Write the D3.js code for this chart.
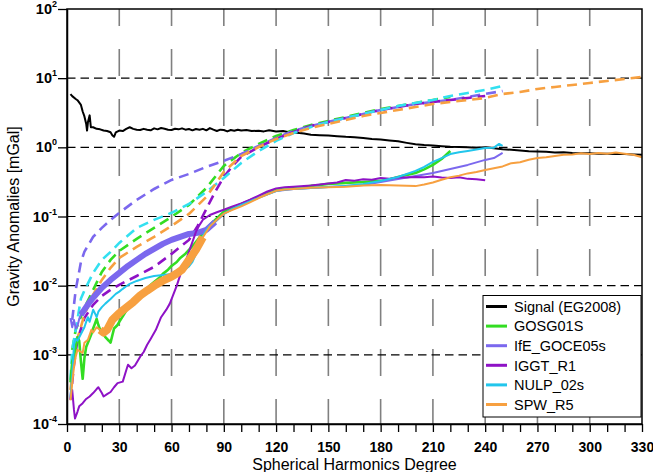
<!DOCTYPE html>
<html><head><meta charset="utf-8">
<script src="https://cdn.jsdelivr.net/npm/d3@7"></script>
<style>body{margin:0;background:#fff}svg{display:block}text{font-family:"Liberation Sans",Arial,sans-serif}</style>
</head><body><svg id="c" width="653" height="472"></svg>
<script>
// ---------- data: [degree, value in mGal] ----------
const xTicks = [0,30,60,90,120,150,180,210,240,270,300,330];
const yTicks = [1e-4,1e-3,1e-2,1e-1,1,10,100];
const yTickExp = ["-4","-3","-2","-1","0","1","2"];
const seriesNames = ["Signal (EG2008)","GOSG01S","IfE_GOCE05s","IGGT_R1","NULP_02s","SPW_R5"];

const signal = [[2,5.9],[3,5.5],[5,5.0],[6,4.8],[8,4.1],[9,3.3],[10,2.8],[11,2.2],[11.5,1.75],[12,2.3],[13,2.9],[13.7,1.95],[15,1.95],[17,1.85],[19,1.82],[21,1.75],[23,1.72],[25,1.65],[26,1.5],[27,1.42],[28,1.65],[30,1.75],[32,1.72],[34,1.85],[36,1.95],[38,1.85],[40,1.8],[42,1.78],[44,1.85],[46,1.8],[48,1.76],[50,1.88],[52,1.82],[54,1.9],[56,1.86],[58,1.8],[60,1.78],[62,1.86],[64,1.82],[66,1.88],[68,1.8],[70,1.84],[72,1.76],[74,1.84],[76,1.8],[78,1.85],[80,1.76],[82,1.9],[84,1.8],[86,1.72],[88,1.8],[90,1.78],[92,1.7],[94,1.78],[96,1.74],[98,1.8],[100,1.75],[103,1.78],[106,1.72],[110,1.74],[113,1.7],[116,1.76],[120,1.7],[124,1.72],[128,1.64],[132,1.62],[136,1.58],[140,1.52],[145,1.5],[150,1.48],[155,1.45],[160,1.42],[165,1.4],[170,1.36],[175,1.32],[180,1.3],[185,1.26],[190,1.22],[195,1.16],[200,1.11],[205,1.08],[210,1.06],[215,1.04],[220,1.02],[225,1.01],[230,1.0],[235,0.99],[240,1.0],[245,0.97],[250,0.94],[255,0.92],[260,0.9],[265,0.88],[270,0.87],[275,0.86],[280,0.84],[285,0.85],[290,0.83],[295,0.82],[300,0.82],[305,0.81],[310,0.81],[315,0.8],[320,0.8],[325,0.79],[330,0.78]];

const gosgDeg = [[2,0.0004],[3,0.0008],[4,0.00095],[5,0.0013],[6,0.0018],[7,0.0016],[8,0.0008],[9,0.00045],[10,0.0009],[11,0.0013],[12,0.0015],[14,0.002],[15,0.0024],[16,0.0028],[17,0.0033],[18,0.0027],[19,0.0023],[21,0.002],[22,0.0018],[24,0.0016],[25,0.0015],[26,0.0019],[27,0.0024],[29,0.0027],[30,0.003],[32,0.0036],[35,0.0048],[38,0.0058],[40,0.0067],[43,0.0078],[45,0.0087],[48,0.0102],[50,0.0113],[53,0.013],[55,0.0148],[58,0.017],[60,0.0193],[63,0.022],[65,0.0252],[68,0.029],[70,0.033],[73,0.04],[75,0.046],[78,0.058],[80,0.068],[83,0.08],[85,0.089],[88,0.105],[90,0.117],[95,0.133],[100,0.152],[105,0.17],[110,0.192],[115,0.22],[120,0.242],[125,0.255],[130,0.259],[135,0.265],[140,0.277],[145,0.285],[150,0.296],[160,0.306],[170,0.316],[180,0.327],[185,0.345],[190,0.373],[195,0.4],[200,0.426],[205,0.48],[210,0.557],[215,0.68],[220,0.887]];
const gosgCum = [[3,0.00118],[5,0.0023],[10,0.0048],[15,0.0087],[20,0.0158],[25,0.0236],[30,0.0318],[40,0.0475],[50,0.0684],[60,0.099],[70,0.147],[80,0.259],[90,0.539],[100,0.83],[110,1.12],[120,1.46],[130,1.78],[140,2.11],[150,2.41],[160,2.75],[170,3.14],[180,3.58],[190,3.96],[200,4.38],[210,4.84],[220,5.35]];

const ifeDeg = [[2,0.0034],[3,0.0025],[4,0.0032],[5,0.0024],[6,0.0026],[7,0.0033],[8,0.0038],[10,0.0045],[13,0.0058],[15,0.0067],[20,0.0093],[25,0.0121],[30,0.0153],[35,0.0193],[40,0.0236],[45,0.0288],[50,0.034],[55,0.0402],[60,0.0459],[65,0.0507],[70,0.056],[75,0.058],[80,0.064],[85,0.0835],[90,0.109],[95,0.129],[100,0.147],[110,0.19],[120,0.234],[130,0.25],[140,0.259],[150,0.268],[160,0.277],[170,0.286],[180,0.316],[190,0.349],[200,0.386],[210,0.426],[220,0.487],[230,0.557],[240,0.658],[245,0.7],[250,0.83]];
const ifeCum = [[3,0.0032],[5,0.0087],[8,0.022],[10,0.031],[15,0.0507],[20,0.0684],[25,0.089],[30,0.113],[40,0.174],[50,0.25],[60,0.338],[70,0.412],[80,0.521],[90,0.637],[100,0.8],[110,1.05],[120,1.37],[130,1.73],[140,2.04],[150,2.33],[160,2.66],[170,3.04],[180,3.47],[190,3.83],[200,4.24],[210,4.53],[220,4.84],[230,5.35],[240,5.91],[250,6.53]];

const iggtDeg = [[2,0.0003],[3,0.00031],[4,0.00016],[4.6,0.00012],[6,0.00015],[7,0.00018],[9,0.0002],[11,0.00023],[13,0.00025],[15,0.00028],[17,0.00032],[18,0.00034],[20,0.00028],[21,0.00025],[23,0.00027],[25,0.00029],[27,0.00034],[29,0.00039],[32,0.00041],[34,0.0006],[35,0.00072],[37,0.00064],[39,0.0007],[42,0.00094],[44,0.0011],[46,0.0014],[48,0.0017],[51,0.0023],[54,0.0035],[57,0.0045],[59,0.0055],[61,0.0074],[63,0.01],[65,0.0143],[68,0.022],[70,0.031],[72,0.043],[74,0.06],[76,0.075],[78,0.09],[82,0.105],[86,0.115],[90,0.125],[95,0.14],[100,0.155],[105,0.175],[110,0.2],[115,0.23],[120,0.255],[125,0.265],[130,0.27],[140,0.28],[150,0.3],[155,0.31],[160,0.338],[165,0.33],[170,0.345],[175,0.34],[180,0.36],[185,0.35],[190,0.37],[195,0.365],[200,0.373],[205,0.37],[210,0.38],[215,0.365],[220,0.36],[225,0.37],[230,0.35],[235,0.345],[240,0.335]];
const iggtCum = [[2,0.000224],[4,0.00072],[6,0.00165],[10,0.0034],[15,0.0053],[20,0.0071],[25,0.0087],[30,0.0103],[40,0.0138],[50,0.0187],[60,0.0288],[70,0.0459],[75,0.073],[80,0.129],[85,0.227],[90,0.373],[95,0.539],[100,0.727],[110,1.01],[120,1.32],[130,1.67],[140,2.04],[150,2.33],[160,2.66],[170,3.04],[180,3.47],[190,3.83],[200,4.24],[210,4.53],[220,4.84],[230,5.17],[240,5.53]];

const nulpDeg = [[2,0.00024],[3,0.0005],[4,0.0014],[5,0.0017],[6,0.0016],[8,0.002],[10,0.0025],[11,0.003],[12,0.0035],[13,0.003],[15,0.0045],[16,0.004],[17,0.0035],[18,0.0042],[20,0.0049],[22,0.0055],[25,0.0064],[28,0.0076],[30,0.0082],[32,0.009],[34,0.0098],[36,0.0106],[40,0.0117],[45,0.0129],[50,0.0138],[55,0.0143],[60,0.0148],[65,0.0158],[68,0.0175],[70,0.019],[72,0.0221],[75,0.0329],[78,0.0524],[80,0.064],[82,0.0731],[86,0.0893],[90,0.109],[95,0.129],[100,0.147],[110,0.186],[120,0.234],[125,0.245],[130,0.25],[140,0.259],[150,0.268],[160,0.277],[170,0.296],[180,0.327],[190,0.373],[200,0.456],[205,0.52],[210,0.615],[215,0.7],[220,0.8],[225,0.85],[230,0.887],[235,0.93],[240,0.98],[245,0.99],[248,1.12],[250,1.05]];
const nulpCum = [[2,0.000435],[3,0.00118],[5,0.0023],[8,0.0065],[10,0.0085],[15,0.0153],[20,0.0236],[25,0.0308],[30,0.0415],[40,0.0684],[50,0.0893],[60,0.113],[70,0.152],[80,0.227],[90,0.361],[100,0.595],[110,0.887],[120,1.24],[130,1.61],[140,1.97],[150,2.33],[160,2.66],[170,3.04],[180,3.47],[190,3.96],[200,4.38],[210,4.84],[220,5.53],[230,6.11],[240,6.76],[250,7.71]];

const spwDeg = [[2,0.00022],[3,0.00039],[4,0.00067],[5,0.00094],[6,0.00118],[8,0.0011],[9,0.00107],[10,0.0015],[12,0.00165],[14,0.0023],[15,0.0021],[17,0.0025],[19,0.0023],[21,0.0021],[23,0.0023],[26,0.0032],[30,0.004],[34,0.0048],[38,0.0058],[42,0.0072],[46,0.0085],[51,0.0103],[55,0.0118],[60,0.0135],[63,0.015],[66,0.017],[70,0.0236],[74,0.033],[78,0.05],[82,0.072],[86,0.09],[90,0.11],[95,0.125],[100,0.14],[105,0.16],[110,0.185],[115,0.21],[120,0.235],[125,0.245],[130,0.25],[140,0.26],[150,0.265],[160,0.27],[170,0.28],[180,0.286],[190,0.28],[200,0.275],[205,0.29],[210,0.31],[215,0.34],[220,0.37],[225,0.39],[230,0.42],[235,0.44],[240,0.47],[245,0.5],[250,0.53],[255,0.59],[260,0.61],[265,0.66],[270,0.7],[275,0.72],[280,0.75],[285,0.78],[290,0.79],[295,0.82],[300,0.8],[305,0.83],[310,0.81],[315,0.84],[320,0.81],[325,0.78],[330,0.72]];
const spwCum = [[2,0.00031],[5,0.0014],[10,0.0038],[15,0.0074],[20,0.0121],[25,0.0181],[30,0.0252],[40,0.0364],[50,0.0507],[60,0.0731],[70,0.109],[80,0.192],[90,0.441],[100,0.75],[110,1.01],[120,1.32],[130,1.61],[140,1.91],[150,2.18],[160,2.49],[170,2.84],[180,3.14],[190,3.47],[200,3.83],[210,4.24],[220,4.53],[230,4.84],[240,5.17],[250,5.91],[260,6.32],[270,6.98],[280,7.47],[290,7.97],[300,8.53],[310,9.11],[320,9.74],[330,10.4]];

// ---------- layout / style ----------
const W = 653, H = 472;
const L = 67, R = 642, T = 9, B = 424;
const colors = ["#000000","#33dd22","#7b68ee","#8e12c6","#22c6ec","#f7a040"];
const cumColors = [null,"#33dd22","#7b68ee","#8e12c6","#33e0f0","#f7a040"];
const FONT = '"Liberation Sans",Arial,sans-serif';

const svg = d3.select("#c");
const x = d3.scaleLinear().domain([0,330]).range([L,R]);
const y = d3.scaleLog().domain([1e-4,1e2]).range([B,T]);

// grid: vertical gray dashes
svg.append("g").selectAll("line").data(xTicks.filter(d=>d>0&&d<330)).join("line")
  .attr("x1",d=>x(d)).attr("x2",d=>x(d)).attr("y1",T).attr("y2",B)
  .attr("stroke","#808080").attr("stroke-width",1.6)
  .attr("stroke-dasharray","27,23").attr("stroke-dashoffset",10);
// grid: horizontal black dashes
svg.append("g").selectAll("line").data(yTicks.filter(d=>d>1e-4&&d<1e2)).join("line")
  .attr("x1",L).attr("x2",R).attr("y1",d=>y(d)).attr("y2",d=>y(d))
  .attr("stroke","#000").attr("stroke-width",1.1).attr("stroke-dasharray","8.5,5");

const line = d3.line().x(d=>x(d[0])).y(d=>y(d[1]));
const plot = svg.append("g");
function solid(data,color,w){ plot.append("path").attr("d",line(data)).attr("fill","none").attr("stroke",color).attr("stroke-width",w).attr("stroke-linejoin","round"); }
function dashed(data,color){ plot.append("path").attr("d",line(data)).attr("fill","none").attr("stroke",color).attr("stroke-width",2.6).attr("stroke-dasharray","10,6"); }

solid(signal,colors[0],2);
const degSeries = [gosgDeg,ifeDeg,iggtDeg,nulpDeg,spwDeg];
const cumSeries = [gosgCum,ifeCum,iggtCum,nulpCum,spwCum];
const bands = [null,[8,86],null,null,[18,80]];
const widths = [2.6,2,2,2,2];
cumSeries.forEach((s,i)=>dashed(s,cumColors[i+1]));
degSeries.forEach((s,i)=>{
  solid(s,colors[i+1],widths[i]);
  if(bands[i]) solid(s.filter(p=>p[0]>=bands[i][0]&&p[0]<=bands[i][1]),colors[i+1],i===4?8:6);
});

// frame
svg.append("rect").attr("x",L).attr("y",T).attr("width",R-L).attr("height",B-T)
  .attr("fill","none").attr("stroke","#000").attr("stroke-width",1.5);

// x axis
const xa = svg.append("g").attr("transform",`translate(0,${B})`)
  .call(d3.axisBottom(x).tickValues(d3.range(0,331,10)).tickSize(8).tickSizeOuter(0).tickPadding(10)
    .tickFormat(d=>d%30===0?d:""));
xa.select(".domain").attr("stroke-width",1.5);
xa.selectAll(".tick line").attr("stroke-width",1.3);
xa.selectAll("text").attr("font-family",FONT).attr("font-size","14px").attr("font-weight","bold").attr("fill","#000");

// y axis
const ya = svg.append("g").attr("transform",`translate(${L},0)`)
  .call(d3.axisLeft(y).tickValues(yTicks).tickSize(9).tickSizeOuter(0).tickFormat(""));
ya.select(".domain").attr("stroke-width",1.5);
ya.selectAll(".tick line").attr("stroke-width",1.3);
const yl = svg.append("g").selectAll("text").data(yTicks).join("text")
  .attr("x",57).attr("y",d=>y(d)+5).attr("text-anchor","end")
  .attr("font-family",FONT).attr("font-weight","bold").attr("font-size","14.5px");
yl.append("tspan").text("10");
yl.append("tspan").text((d,i)=>yTickExp[i]).attr("font-size","9px").attr("dy",-7);

// axis titles
svg.append("text").attr("x",(L+R)/2).attr("y",470).attr("text-anchor","middle")
  .attr("font-family",FONT).attr("font-size","16px").text("Spherical Harmonics Degree");
svg.append("text").attr("transform",`translate(19,${(T+B)/2}) rotate(-90)`).attr("text-anchor","middle")
  .attr("font-family",FONT).attr("font-size","16px").text("Gravity Anomalies [mGal]");

// legend
const lg = svg.append("g");
lg.append("rect").attr("x",483).attr("y",295.5).attr("width",158).attr("height",121.5)
  .attr("fill","#fff").attr("stroke","#000").attr("stroke-width",1);
seriesNames.forEach((n,i)=>{
  const yy = 306.5 + i*19.6;
  lg.append("line").attr("x1",486).attr("x2",507).attr("y1",yy).attr("y2",yy).attr("stroke",colors[i]).attr("stroke-width",3);
  lg.append("text").attr("x",514).attr("y",yy).attr("dy","0.36em").attr("font-family",FONT).attr("font-size","14.5px").text(n);
});
</script></body></html>
